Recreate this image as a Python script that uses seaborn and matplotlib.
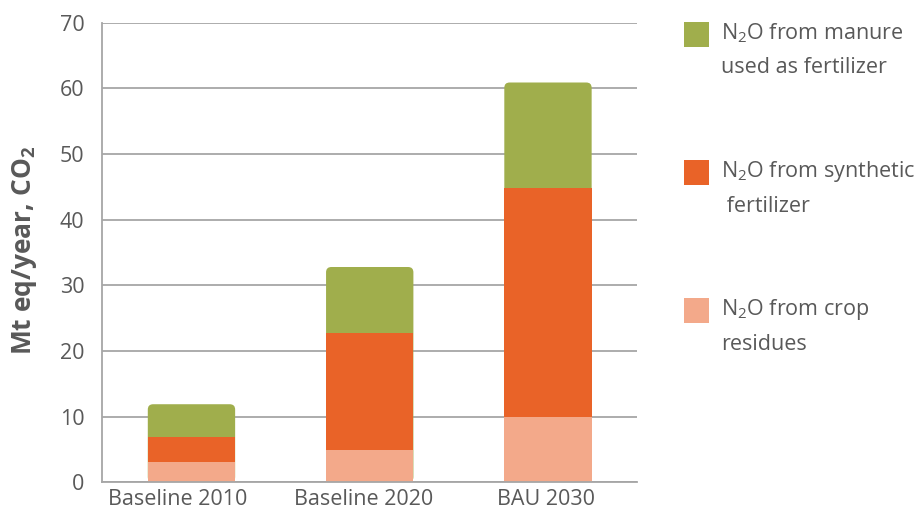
import numpy as np
import pandas as pd
import matplotlib.pyplot as plt
import matplotlib.transforms as mtransforms
import seaborn as sns
from matplotlib.patches import FancyBboxPatch, Rectangle

CATEGORIES = ['Baseline 2010', 'Baseline 2020', 'BAU 2030']
CROP_RESIDUES = [3.1, 4.9, 10.0]
SYNTHETIC = [3.8, 17.9, 34.8]
MANURE = [5.0, 10.0, 16.1]
LABELS = ['N$_2$O from manure\nused as fertilizer',
          'N$_2$O from synthetic\n fertilizer',
          'N$_2$O from crop\nresidues']
COLORS = ['#A0AE4C', '#E96328', '#F3A98A']
TEXT = '#595959'
GRID = '#A6A6A6'

sns.set_theme(style='white')
plt.rcParams['font.family'] = ['Open Sans', 'DejaVu Sans']
plt.rcParams['mathtext.fontset'] = 'custom'
plt.rcParams['mathtext.rm'] = 'Open Sans'
plt.rcParams['mathtext.bf'] = 'Open Sans:bold'
plt.rcParams['mathtext.it'] = 'Open Sans:italic'

df = pd.DataFrame({'category': CATEGORIES, 'crop': CROP_RESIDUES,
                   'synthetic': SYNTHETIC, 'manure': MANURE})
df['lower'] = df['crop'] + df['synthetic']
df['total'] = df['lower'] + df['manure']

fig = plt.figure(figsize=(9.22, 5.17), dpi=100)
ax = fig.add_axes([0.111, 0.067, 0.58, 0.889])
ax.set_axisbelow(True)

# stacked by overdrawing cumulative heights
sns.barplot(data=df, x='category', y='total', color=COLORS[0], width=0.49,
            linewidth=0, saturation=1, ax=ax)
sns.barplot(data=df, x='category', y='lower', color=COLORS[1], width=0.49,
            linewidth=0, saturation=1, ax=ax)
sns.barplot(data=df, x='category', y='crop', color=COLORS[2], width=0.49,
            linewidth=0, saturation=1, ax=ax)

# rounded top corners for the full-height bars
for p in list(ax.containers[0]):
    x, y, w, h = p.get_x(), p.get_y(), p.get_width(), p.get_height()
    z = p.get_zorder()
    p.remove()
    ax.add_patch(FancyBboxPatch((x, y), w, h,
                                boxstyle='round,pad=0,rounding_size=0.03',
                                mutation_aspect=27, facecolor=COLORS[0],
                                edgecolor='none', zorder=z - 0.1))

ax.set_xlim(-0.5, 2.5)
ax.set_ylim(0, 70)
ax.set_yticks(np.arange(0, 71, 10))
ax.yaxis.grid(True, color=GRID, lw=1.3)
ax.set_xlabel('')
ax.set_ylabel('Mt eq/year, CO$_\\mathbf{2}$', fontsize=19, fontweight='bold',
              color=TEXT)
ax.yaxis.set_label_coords(-0.119, 0.505)
ax.tick_params(axis='y', length=8, width=1.3, color=GRID, labelcolor=TEXT,
               labelsize=15.5, pad=5)
ax.tick_params(axis='x', length=0, labelcolor=TEXT, labelsize=15.5, pad=5)
# the category labels sit a little left of the bars, as in the original
for lab, dx in zip(ax.get_xticklabels(), [-14, -6, -2]):
    lab.set_transform(lab.get_transform() +
                      mtransforms.ScaledTranslation(dx / 100, 0, fig.dpi_scale_trans))
sns.despine(ax=ax)
for s in ['left', 'bottom']:
    ax.spines[s].set_color(GRID)
    ax.spines[s].set_linewidth(1.3)

# legend, drawn by hand so the square sits on the first line
W, H = 922, 517
for i, (lab, col) in enumerate(zip(LABELS, COLORS)):
    yc = [35, 173, 311][i]
    fig.add_artist(Rectangle((684 / W, 1 - (yc + 12) / H), 25 / W, 25 / H,
                             transform=fig.transFigure, facecolor=col,
                             edgecolor='none'))
    fig.text(721 / W, 1 - (yc - 14) / H, lab, fontsize=15.5, color=TEXT,
             va='top', ha='left', linespacing=1.75)

fig.savefig('out.png', dpi=100)
